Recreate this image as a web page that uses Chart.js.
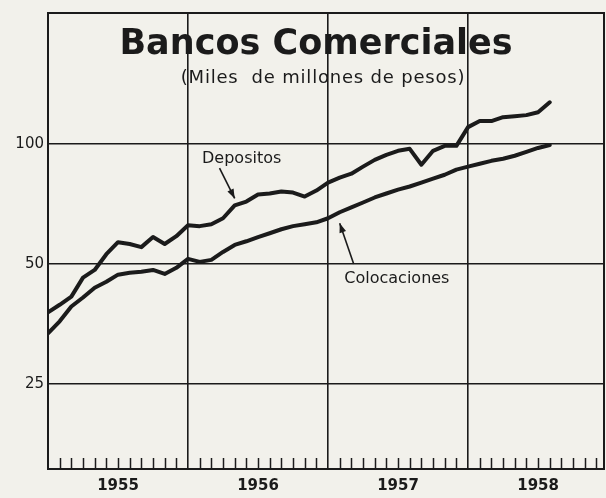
<!DOCTYPE html>
<html>
<head>
<meta charset="utf-8">
<script src="https://cdn.jsdelivr.net/npm/chart.js@4"></script>
<style>
  html, body { margin: 0; padding: 0; background: #f2f1eb; }
</style>
</head>
<body>
<canvas id="chart" width="606" height="498"></canvas>
<script>
// Datos mensuales, enero 1955 - agosto 1958 (miles de millones de pesos)
const meses = [
    "1955-01", "1955-02", "1955-03", "1955-04", "1955-05", "1955-06", "1955-07", "1955-08", "1955-09", "1955-10", "1955-11", "1955-12",
    "1956-01", "1956-02", "1956-03", "1956-04", "1956-05", "1956-06", "1956-07", "1956-08", "1956-09", "1956-10", "1956-11", "1956-12",
    "1957-01", "1957-02", "1957-03", "1957-04", "1957-05", "1957-06", "1957-07", "1957-08", "1957-09", "1957-10", "1957-11", "1957-12",
    "1958-01", "1958-02", "1958-03", "1958-04", "1958-05", "1958-06", "1958-07", "1958-08"
];
const depositos = [
    37.8, 39.5, 41.4, 46.2, 48.3, 52.9, 56.7, 56.1, 55.1, 58.4, 56.1, 58.7,
    62.5, 62.2, 62.9, 65.1, 70.1, 71.7, 74.7, 75.1, 76.0, 75.5, 73.8, 76.4,
    80.0, 82.3, 84.2, 87.7, 91.2, 93.9, 96.1, 97.2, 88.7, 96.1, 98.9, 98.9,
    110.2, 114.1, 114.1, 116.7, 117.4, 118.1, 120.1, 127.2
];
const colocaciones = [
    33.5, 35.9, 39.1, 41.2, 43.6, 45.1, 47.0, 47.5, 47.8, 48.3, 47.2, 48.9,
    51.5, 50.6, 51.2, 53.6, 55.8, 57.0, 58.4, 59.7, 61.1, 62.2, 62.9, 63.6,
    65.1, 67.4, 69.3, 71.3, 73.4, 75.1, 76.8, 78.2, 80.0, 81.8, 83.7, 86.2,
    87.7, 89.2, 90.7, 91.8, 93.4, 95.5, 97.7, 99.4
];
const anios = ["1955", "1956", "1957", "1958"];
const yTicks = [25, 50, 100];

const tinta = "#1b1b1b";

// Rótulos con flecha (posición en meses / valor)
const rotulos = [
    { texto: "Depositos", x: 16.6, y: 91.5, desdeX: 14.7, desdeY: 87, serie: depositos, mes: 16, ajuste: -7 },
    { texto: "Colocaciones", x: 29.9, y: 46, desdeX: 26.2, desdeY: 50, serie: colocaciones, mes: 25, ajuste: 11 }
];

// Fondo, marco, marcas de meses, títulos y rótulos
const dibujo = {
    id: "dibujo",
    beforeDraw(chart) {
        const ctx = chart.ctx;
        ctx.save();
        ctx.fillStyle = "#f2f1eb";
        ctx.fillRect(0, 0, chart.width, chart.height);
        ctx.restore();
    },
    afterDraw(chart) {
        const ctx = chart.ctx;
        const a = chart.chartArea;
        const xs = chart.scales.x;
        const ys = chart.scales.y;
        ctx.save();
        ctx.strokeStyle = tinta;
        ctx.lineWidth = 2;
        ctx.strokeRect(a.left, a.top, a.right - a.left, a.bottom - a.top);

        // marcas de meses
        ctx.lineWidth = 1.5;
        for (let m = 1; m < 48; m++) {
            if (m % 12 === 0) continue;
            const px = Math.round(xs.getPixelForValue(m)) + 0.5;
            if (px > a.right - 2) break;
            ctx.beginPath();
            ctx.moveTo(px, a.bottom);
            ctx.lineTo(px, a.bottom - 11);
            ctx.stroke();
        }

        // títulos
        ctx.fillStyle = tinta;
        ctx.textAlign = "center";
        ctx.textBaseline = "middle";
        ctx.font = "bold 35px 'DejaVu Sans'";
        ctx.fillText("Bancos Comerciales", 316, 45);
        ctx.font = "18px 'DejaVu Sans'";
        ctx.letterSpacing = "0.8px";
        ctx.fillText("(Miles  de millones de pesos)", 323, 78);
        ctx.letterSpacing = "0px";

        // rótulos con flecha
        ctx.font = "16px 'DejaVu Sans'";
        rotulos.forEach(r => {
            ctx.fillText(r.texto, xs.getPixelForValue(r.x), ys.getPixelForValue(r.y));
            const x0 = xs.getPixelForValue(r.desdeX);
            const y0 = ys.getPixelForValue(r.desdeY);
            const x1 = xs.getPixelForValue(r.mes);
            const y1 = ys.getPixelForValue(r.serie[r.mes]) + r.ajuste;
            ctx.lineWidth = 1.6;
            ctx.beginPath();
            ctx.moveTo(x0, y0);
            ctx.lineTo(x1, y1);
            ctx.stroke();
            const ang = Math.atan2(y1 - y0, x1 - x0);
            ctx.beginPath();
            ctx.moveTo(x1, y1);
            ctx.lineTo(x1 - 10 * Math.cos(ang - 0.35), y1 - 10 * Math.sin(ang - 0.35));
            ctx.lineTo(x1 - 10 * Math.cos(ang + 0.35), y1 - 10 * Math.sin(ang + 0.35));
            ctx.closePath();
            ctx.fill();
        });
        ctx.restore();
    }
};

const serie = valores => valores.map((v, i) => ({ x: i, y: v }));

new Chart(document.getElementById("chart"), {
    type: "line",
    data: {
        labels: meses,
        datasets: [
            {
                label: "Depositos",
                data: serie(depositos),
                borderColor: tinta,
                borderWidth: 4,
                pointRadius: 0,
                tension: 0,
                borderJoinStyle: "round",
                borderCapStyle: "round"
            },
            {
                label: "Colocaciones",
                data: serie(colocaciones),
                borderColor: tinta,
                borderWidth: 4,
                pointRadius: 0,
                tension: 0,
                borderJoinStyle: "round",
                borderCapStyle: "round"
            }
        ]
    },
    options: {
        responsive: false,
        animation: false,
        devicePixelRatio: 1,
        layout: { padding: { top: 9, right: 2, left: 0, bottom: 0 } },
        plugins: {
            legend: { display: false },
            tooltip: { enabled: false },
            title: { display: false }
        },
        scales: {
            x: {
                type: "linear",
                min: 0,
                max: 47.65,
                afterBuildTicks: s => {
                    s.ticks = [6, 12, 18, 24, 30, 36, 42].map(v => ({ value: v }));
                },
                afterFit: s => { s.height = 29; },
                ticks: {
                    callback: v => (v % 12 === 6 ? anios[(v - 6) / 12] : ""),
                    color: tinta,
                    font: { family: "DejaVu Sans", size: 15, weight: "bold" },
                    padding: 8,
                    maxRotation: 0,
                    autoSkip: false
                },
                grid: {
                    color: c => (c.tick && c.tick.value % 12 === 0 ? tinta : "rgba(0,0,0,0)"),
                    lineWidth: 1.6,
                    drawTicks: false
                },
                border: { display: false }
            },
            y: {
                type: "logarithmic",
                min: 15.3,
                max: 213,
                afterBuildTicks: s => {
                    s.ticks = yTicks.map(v => ({ value: v }));
                },
                afterFit: s => { s.width = 48; },
                ticks: {
                    callback: v => String(v),
                    color: tinta,
                    font: { family: "DejaVu Sans", size: 15 },
                    padding: 4
                },
                grid: { color: tinta, lineWidth: 1.6, drawTicks: false },
                border: { display: false }
            }
        }
    },
    plugins: [dibujo]
});
</script>
</body>
</html>
